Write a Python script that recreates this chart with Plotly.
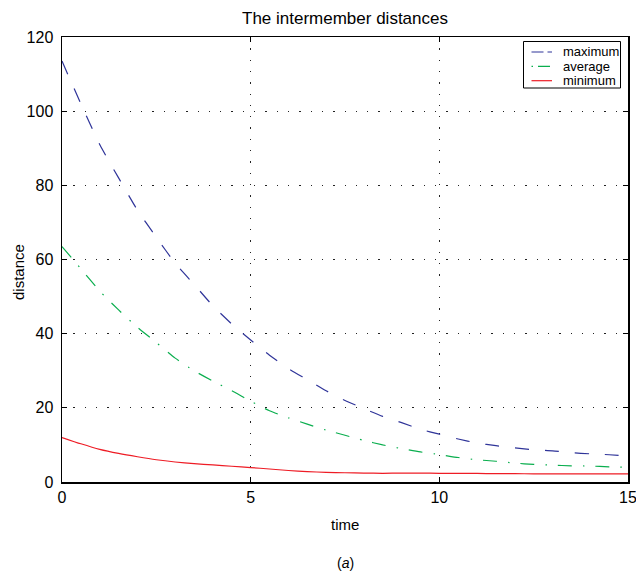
import plotly.graph_objects as go

# Data
time = [0, 0.5, 1, 1.5, 2, 2.5, 3, 3.5, 4, 4.5, 5, 5.5, 6, 6.5, 7, 7.5, 8, 8.5, 9, 9.5,
        10, 10.5, 11, 11.5, 12, 12.5, 13, 13.5, 14, 14.5, 15]
d_max = [113.5, 102, 91, 82, 73.3, 66, 59, 53.3, 47.5, 42.6, 38.3, 34.2, 30.6, 27.6, 24.6, 22,
         19.8, 17.7, 16, 14.2, 12.9, 11.6, 10.5, 9.8, 9.2, 8.7, 8.4, 7.9, 7.6, 7.35, 7.0]
d_avg = [63.5, 57.5, 51.5, 46.4, 41.7, 37.6, 33.4, 30, 27.2, 24.6, 21.8, 19.2, 17.3, 15.6, 14, 12.6,
         11.2, 10, 9, 8.1, 7.4, 6.6, 6, 5.6, 5.1, 4.75, 4.55, 4.35, 4.3, 4.1, 4.0]
d_min = [12, 10.3, 8.8, 7.7, 6.8, 6.0, 5.4, 4.95, 4.6, 4.25, 3.9, 3.5, 3.1, 2.8, 2.6, 2.5,
         2.4, 2.35, 2.4, 2.4, 2.35, 2.3, 2.3, 2.25, 2.25, 2.2, 2.2, 2.2, 2.2, 2.2, 2.2]

series_names = ["maximum", "average", "minimum"]
x_ticks = [0, 5, 10, 15]
y_ticks = [0, 20, 40, 60, 80, 100, 120]

FONT = "Liberation Sans, Arial, sans-serif"
W, H = 636, 572
L, R, T, B = 62, 8, 37, 90
PW, PH = W - L - R, H - T - B

def px_x(p):  # pixel x -> paper
    return (p - L) / PW

def px_y(p):  # pixel y (from top) -> paper
    return (H - B - p) / PH

styles = [
    dict(color="#2f3499", width=1.2, dash="14px,16px"),
    dict(color="#0aae4e", width=1.2, dash="14px,11px,1.5px,11px"),
    dict(color="#ee1c25", width=1.2),
]
legend_dash = ["12px,4px", "1.5px,5px,12px,2px", "solid"]

fig = go.Figure()
for name, ys, st in zip(series_names, [d_max, d_avg, d_min], styles):
    fig.add_trace(go.Scatter(x=time, y=ys, mode="lines", name=name,
                             line=dict(shape="spline", smoothing=0.6, **st)))

axis_common = dict(
    showline=True, linecolor="black", linewidth=1.5, mirror="ticks",
    ticks="inside", ticklen=5, tickcolor="black", tickwidth=1,
    showgrid=True, gridcolor="#222222", griddash="1.3px,10px", gridwidth=1,
    zeroline=False, tickfont=dict(family=FONT, size=16, color="black"),
    automargin=False, ticklabeloverflow="allow",
)

fig.update_xaxes(range=[0, 15], tickvals=x_ticks, **axis_common)
fig.update_yaxes(range=[0, 120], tickvals=y_ticks, ticklabelstandoff=4, **axis_common)

annotations = [
    dict(text="time", x=0.5, xref="paper", y=px_y(524), yref="paper",
         showarrow=False, font=dict(family=FONT, size=15, color="black"),
         xanchor="center", yanchor="middle"),
    dict(text="distance", x=px_x(18), xref="paper", y=px_y(272), yref="paper",
         showarrow=False, textangle=-90, font=dict(family=FONT, size=15, color="black"),
         xanchor="center", yanchor="middle"),
    dict(text="(<i>a</i>)", x=0.5, xref="paper", y=px_y(563), yref="paper",
         showarrow=False, font=dict(family=FONT, size=14, color="black"),
         xanchor="center", yanchor="middle"),
]

# Legend box (drawn in MATLAB style)
shapes = [dict(type="rect", xref="paper", yref="paper",
               x0=px_x(523.5), x1=px_x(620.5), y0=px_y(41.5), y1=px_y(88),
               line=dict(color="black", width=1), fillcolor="white", layer="above")]
rows = [52, 66.3, 80.7]
for name, st, ld, ry in zip(series_names, styles, legend_dash, rows):
    shapes.append(dict(type="line", xref="paper", yref="paper",
                       x0=px_x(531.5), x1=px_x(552), y0=px_y(ry), y1=px_y(ry),
                       line=dict(color=st["color"], width=1.2, dash=ld),
                       layer="above"))
    annotations.append(dict(text=name, x=px_x(561), xref="paper", y=px_y(ry), yref="paper",
                            showarrow=False, xanchor="left", yanchor="middle",
                            font=dict(family=FONT, size=13, color="black")))

fig.update_layout(
    width=W, height=H,
    margin=dict(l=L, r=R, t=T, b=B),
    paper_bgcolor="white", plot_bgcolor="white",
    title=dict(text="The intermember distances", x=345 / W, xanchor="center",
               y=1 - 18 / H, yanchor="middle", yref="container", xref="container",
               font=dict(family=FONT, size=17, color="black")),
    showlegend=False,
    hovermode=False,
    annotations=annotations,
    shapes=shapes,
)

fig.write_html("out.html",
               config={"displayModeBar": False, "staticPlot": True},
               post_script="document.body.style.margin='0';document.body.style.padding='0';")
